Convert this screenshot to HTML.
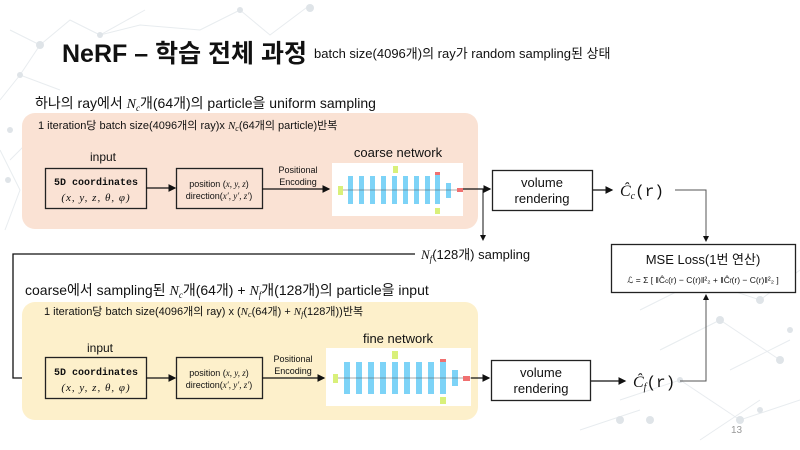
<!DOCTYPE html>
<html><head><meta charset="utf-8"><style>
body{margin:0;width:800px;height:450px;overflow:hidden;background:#fff;}
svg{display:block}
text{font-family:"Liberation Sans","Noto Sans CJK KR",sans-serif;fill:#111}
.m{font-family:"Liberation Mono","Noto Sans CJK KR",monospace;font-weight:bold}
.mn{font-family:"Liberation Mono",monospace;font-weight:normal}
.s{font-family:"Liberation Serif","Noto Serif CJK SC",serif;font-style:italic}
</style></head><body>
<svg width="800" height="450" viewBox="0 0 800 450" xmlns="http://www.w3.org/2000/svg">
<defs><marker id="a" markerWidth="6" markerHeight="6" refX="5" refY="3" orient="auto"><path d="M0,0 L6,3 L0,6z" fill="#111"/></marker></defs>
<g stroke="#e8ecef" fill="none" stroke-width="1">
<path d="M10,30 L40,45 L70,20 L100,35 L145,10 M40,45 L20,75 L60,90 M100,35 L140,25 L200,30 L240,10 M240,10 L270,35 L310,5 M20,75 L0,100 M0,150 L20,190 L5,230 M10,160 L30,140"/>
<path d="M640,310 L700,280 L760,300 L800,270 M660,350 L720,320 L780,360 M620,400 L680,380 L740,420 L800,400 M700,440 L760,400 M580,430 L640,410 M730,370 L790,340"/>
</g>
<g fill="#dfe4e8">
<circle cx="40" cy="45" r="4"/><circle cx="100" cy="35" r="3"/><circle cx="20" cy="75" r="3"/><circle cx="240" cy="10" r="3"/><circle cx="310" cy="8" r="4"/><circle cx="10" cy="130" r="3"/><circle cx="8" cy="180" r="3"/>
<circle cx="700" cy="280" r="4"/><circle cx="760" cy="300" r="4"/><circle cx="720" cy="320" r="4"/><circle cx="680" cy="380" r="3"/><circle cx="740" cy="420" r="4"/><circle cx="650" cy="420" r="4"/><circle cx="780" cy="360" r="4"/><circle cx="760" cy="410" r="3"/><circle cx="790" cy="330" r="3"/><circle cx="620" cy="420" r="4"/>
</g>
<text x="62" y="62" font-size="25" font-weight="bold">NeRF – 학습 전체 과정</text>
<text x="314" y="58" font-size="13">batch size(4096개)의 ray가 random sampling된 상태</text>
<text x="35" y="108" font-size="14">하나의 ray에서 <tspan class="s">N<tspan font-size="9" dy="3">c</tspan></tspan><tspan dy="-3">개(64개)의 particle을 uniform sampling</tspan></text>
<rect x="22" y="113" width="456" height="116" rx="13" fill="#fae2d4"/>
<text x="38" y="129" font-size="11">1 iteration당  batch size(4096개의 ray)x  <tspan class="s">N<tspan font-size="8" dy="2">c</tspan></tspan><tspan dy="-2">(64개의 particle)반복</tspan></text>
<text x="103" y="161" font-size="12" text-anchor="middle">input</text>
<rect x="45.5" y="168.5" width="101" height="40" fill="none" stroke="#222" stroke-width="1.3"/>
<text x="96" y="185" font-size="10" text-anchor="middle" class="m">5D coordinates</text>
<text x="96" y="201" font-size="11" text-anchor="middle" class="s" letter-spacing="1">(x, y, z, θ, φ)</text>
<line x1="146" y1="188" x2="175" y2="188" stroke="#111" stroke-width="1.3" marker-end="url(#a)"/>
<rect x="176.5" y="168.5" width="86" height="40" fill="none" stroke="#222" stroke-width="1.3"/>
<text x="219" y="187" font-size="9" text-anchor="middle">position (<tspan class="s">x, y, z</tspan>)</text>
<text x="219" y="199" font-size="9" text-anchor="middle">direction(<tspan class="s">x′, y′, z′</tspan>)</text>
<text x="298" y="173" font-size="9" text-anchor="middle">Positional</text>
<text x="298" y="185" font-size="9" text-anchor="middle">Encoding</text>
<line x1="262" y1="189" x2="329" y2="189" stroke="#111" stroke-width="1.3" marker-end="url(#a)"/>
<text x="398" y="157" font-size="13" text-anchor="middle">coarse network</text>
<rect x="332" y="163" width="131" height="53" fill="#fff"/>
<g fill="#7dd3f7">
<rect x="348" y="176" width="5" height="28"/><rect x="359" y="176" width="5" height="28"/><rect x="370" y="176" width="5" height="28"/><rect x="381" y="176" width="5" height="28"/><rect x="392" y="176" width="5" height="28"/><rect x="403" y="176" width="5" height="28"/><rect x="414" y="176" width="5" height="28"/><rect x="425" y="176" width="5" height="28"/><rect x="435" y="174" width="5" height="30"/><rect x="446" y="183" width="5" height="15"/>
</g>
<line x1="342" y1="190" x2="463" y2="190" stroke="#555" stroke-width="0.6"/>
<g fill="#d9f07a"><rect x="338" y="186" width="5" height="9"/><rect x="393" y="166" width="5" height="7"/><rect x="435" y="208" width="5" height="6"/></g>
<g fill="#f07070"><rect x="435" y="172" width="5" height="3"/><rect x="457" y="188" width="6" height="4"/></g>
<line x1="463" y1="189" x2="490" y2="189" stroke="#111" stroke-width="1.3" marker-end="url(#a)"/>
<line x1="483" y1="189" x2="483" y2="240" stroke="#111" stroke-width="1" marker-end="url(#a)"/>
<rect x="492.5" y="170.5" width="100" height="40" fill="#fff" stroke="#222" stroke-width="1.3"/>
<text x="542" y="187" font-size="13" text-anchor="middle">volume</text>
<text x="542" y="203" font-size="13" text-anchor="middle">rendering</text>
<line x1="593" y1="190" x2="612" y2="190" stroke="#111" stroke-width="1.3" marker-end="url(#a)"/>
<text x="620" y="196" font-size="16"><tspan class="s">Ĉ<tspan font-size="10" dy="3">c</tspan></tspan><tspan dy="-3" class="mn">(r)</tspan></text>
<polyline points="675,190 706,190 706,241" fill="none" stroke="#555" stroke-width="1" marker-end="url(#a)"/>
<rect x="611.5" y="244.5" width="184" height="48" fill="#fff" stroke="#222" stroke-width="1.3"/>
<text x="703" y="264" font-size="13" text-anchor="middle">MSE Loss(1번 연산)</text>
<text x="703" y="283" font-size="8.5" text-anchor="middle" font-family="Liberation Serif,serif">ℒ = Σ [ ‖Ĉ<tspan font-size="6">c</tspan>(r) − C(r)‖²₂ + ‖Ĉ<tspan font-size="6">f</tspan>(r) − C(r)‖²₂ ]</text>
<text x="421" y="259" font-size="13"><tspan class="s">N<tspan font-size="9" dy="3">f</tspan></tspan><tspan dy="-3">(128개) sampling</tspan></text>
<polyline points="415,254 13,254 13,378 44,378" fill="none" stroke="#111" stroke-width="1.3" marker-end="url(#a)"/>
<text x="25" y="295" font-size="14">coarse에서 sampling된 <tspan class="s">N<tspan font-size="9" dy="3">c</tspan></tspan><tspan dy="-3">개(64개) + </tspan><tspan class="s">N<tspan font-size="9" dy="3">f</tspan></tspan><tspan dy="-3">개(128개)의 particle을 input</tspan></text>
<rect x="22" y="302" width="456" height="118" rx="13" fill="#fdf0cb"/>
<text x="44" y="315" font-size="11">1 iteration당  batch size(4096개의 ray) x  (<tspan class="s">N<tspan font-size="8" dy="2">c</tspan></tspan><tspan dy="-2">(64개) + </tspan><tspan class="s">N<tspan font-size="8" dy="2">f</tspan></tspan><tspan dy="-2">(128개))반복</tspan></text>
<text x="100" y="352" font-size="12" text-anchor="middle">input</text>
<rect x="45.5" y="357.5" width="101" height="41" fill="none" stroke="#222" stroke-width="1.3"/>
<text x="96" y="375" font-size="10" text-anchor="middle" class="m">5D coordinates</text>
<text x="96" y="391" font-size="11" text-anchor="middle" class="s" letter-spacing="1">(x, y, z, θ, φ)</text>
<line x1="146" y1="378" x2="175" y2="378" stroke="#111" stroke-width="1.3" marker-end="url(#a)"/>
<rect x="176.5" y="357.5" width="86" height="41" fill="none" stroke="#222" stroke-width="1.3"/>
<text x="219" y="376" font-size="9" text-anchor="middle">position (<tspan class="s">x, y, z</tspan>)</text>
<text x="219" y="388" font-size="9" text-anchor="middle">direction(<tspan class="s">x′, y′, z′</tspan>)</text>
<text x="293" y="362" font-size="9" text-anchor="middle">Positional</text>
<text x="293" y="374" font-size="9" text-anchor="middle">Encoding</text>
<line x1="262" y1="378" x2="324" y2="378" stroke="#111" stroke-width="1.3" marker-end="url(#a)"/>
<text x="398" y="343" font-size="13" text-anchor="middle">fine network</text>
<rect x="326" y="348" width="145" height="58" fill="#fff"/>
<g fill="#7dd3f7">
<rect x="344" y="362" width="6" height="32"/><rect x="356" y="362" width="6" height="32"/><rect x="368" y="362" width="6" height="32"/><rect x="380" y="362" width="6" height="32"/><rect x="392" y="362" width="6" height="32"/><rect x="404" y="362" width="6" height="32"/><rect x="416" y="362" width="6" height="32"/><rect x="428" y="362" width="6" height="32"/><rect x="440" y="360" width="6" height="34"/><rect x="452" y="370" width="6" height="16"/>
</g>
<line x1="336" y1="378" x2="471" y2="378" stroke="#555" stroke-width="0.6"/>
<g fill="#d9f07a"><rect x="333" y="374" width="5" height="9"/><rect x="392" y="351" width="6" height="8"/><rect x="440" y="397" width="6" height="7"/></g>
<g fill="#f07070"><rect x="440" y="359" width="6" height="3"/><rect x="463" y="376" width="7" height="5"/></g>
<line x1="471" y1="378" x2="489" y2="378" stroke="#111" stroke-width="1.3" marker-end="url(#a)"/>
<rect x="491.5" y="360.5" width="99" height="40" fill="#fff" stroke="#222" stroke-width="1.3"/>
<text x="541" y="377" font-size="13" text-anchor="middle">volume</text>
<text x="541" y="393" font-size="13" text-anchor="middle">rendering</text>
<line x1="591" y1="381" x2="625" y2="381" stroke="#111" stroke-width="1.3" marker-end="url(#a)"/>
<text x="633" y="387" font-size="16"><tspan class="s">Ĉ<tspan font-size="10" dy="3">f</tspan></tspan><tspan dy="-3" class="mn">(r)</tspan></text>
<polyline points="680,381 706,381 706,295" fill="none" stroke="#555" stroke-width="1" marker-end="url(#a)"/>
<text x="731" y="433" font-size="10" style="fill:#999">13</text>
</svg>
</body></html>
